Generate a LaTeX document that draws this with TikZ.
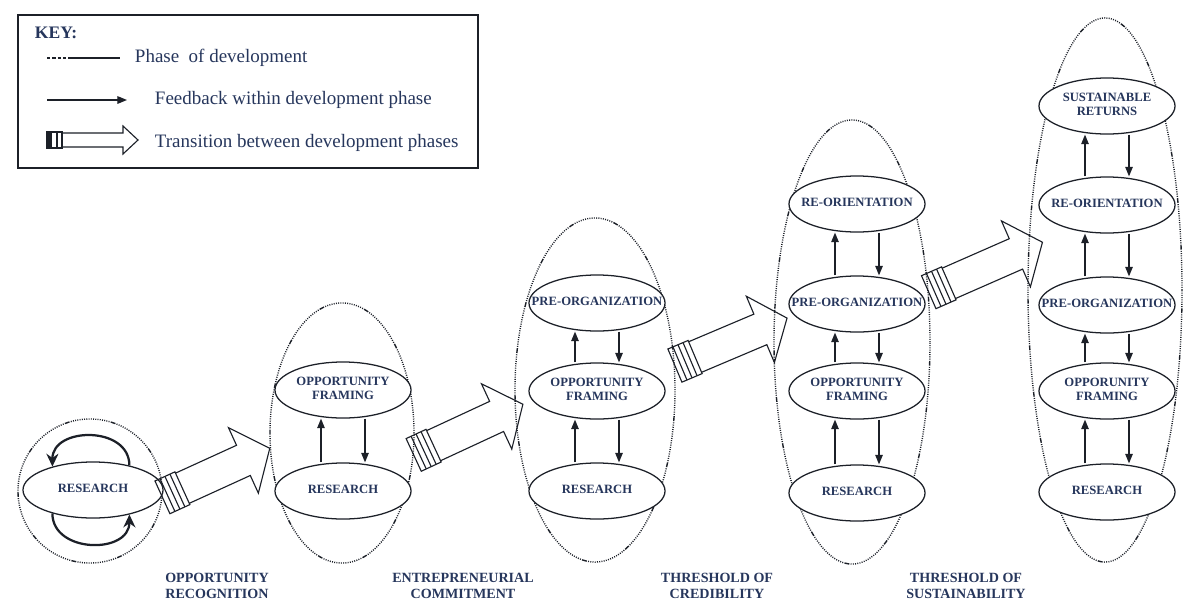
\documentclass[tikz,border=0pt]{standalone}
\usepackage{fontspec}
\setmainfont{Liberation Serif}
\usetikzlibrary{arrows.meta,shapes.geometric,decorations.markings}

\definecolor{ink}{RGB}{38,54,92}
\definecolor{rule}{RGB}{28,32,40}

\newcommand{\stagetext}[1]{\makebox[0pt]{\begin{tabular}{@{}c@{}}#1\end{tabular}}}
\newcommand{\transshape}{%
  \draw[transline] (0pt,-12.8pt) rectangle (15.6pt,12.8pt);
  \foreach \s in {3.9pt,7.8pt,11.7pt} \draw[transline] (\s,-12.8pt) -- (\s,12.8pt);
  \draw[transline] (15.6pt,11.8pt) -- (\pgfdecoratedpathlength-20.6pt,11.8pt)
    -- (\pgfdecoratedpathlength-20.6pt,25.6pt) -- (\pgfdecoratedpathlength,0pt)
    -- (\pgfdecoratedpathlength-20.6pt,-25.6pt) -- (\pgfdecoratedpathlength-20.6pt,-11.8pt)
    -- (15.6pt,-11.8pt);
}

\tikzset{
  phase/.style={draw=rule, line width=1pt, inner sep=0pt,
    dash pattern=on 0.7pt off 0.9pt on 0.7pt off 0.9pt on 0.7pt off 0.9pt on 0.7pt off 0.9pt
      on 0.7pt off 0.9pt on 0.7pt off 0.9pt on 0.7pt off 0.9pt on 0.7pt off 0.9pt
      on 0.7pt off 0.9pt on 0.7pt off 0.9pt on 0.7pt off 0.9pt on 0.7pt off 0.9pt
      on 0.7pt off 0.9pt on 0.7pt off 0.9pt on 0.7pt off 0.9pt on 0.7pt off 0.9pt
      on 0.7pt off 0.9pt on 0.7pt off 0.9pt on 3.5pt off 0.9pt},
  stage/.style={ellipse, draw=rule, fill=white, line width=0.9pt,
    minimum width=3.4cm, minimum height=1.4cm, inner sep=0pt,
    text=ink, font=\bfseries\fontsize{9}{10}\selectfont},
  fb/.style={draw=rule, line width=0.8pt, -{Triangle[length=2.4mm,width=1.9mm]}},
  turn/.style={draw=rule, line width=1.6pt, -{Stealth[length=3.2mm,width=3mm]}},
  transline/.style={draw=rule, line width=0.8pt},
  transition/.style={decoration={markings, mark=at position 0 with {\transshape}},
    postaction={decorate}},
  threshold/.style={text=ink, font=\bfseries\fontsize{10}{11.5}\selectfont, align=center},
  keytext/.style={text=ink, anchor=west, font=\fontsize{13.5}{15}\selectfont}
}

\begin{document}
\begin{tikzpicture}[x=0.025cm, y=-0.025cm]
  \useasboundingbox (0,0) rectangle (1185,606);

  % key
  \draw[rule, line width=1.1pt] (18,15) rectangle (478,168);
  \node[anchor=west, text=ink, font=\bfseries\fontsize{12.5}{14}\selectfont] (key) at (30,33) {KEY:};
  \draw[rule, line width=1.6pt, dash pattern=on 2.4pt off 1.4pt] (47,58) -- (72,58);
  \draw[rule, line width=1.8pt] (72,58) -- (120,58);
  \node[keytext] (k1) at (130,58) {Phase\ \ of development};
  \draw[fb] (47,100) -- (127,100);
  \node[keytext] (k2) at (150,100) {Feedback within development phase};
  \fill[rule] (47,132) rectangle (52,148);
  \draw[transline] (47,132) rectangle (62,148) (57,132) -- (57,148);
  \draw[transline] (62,133) -- (123,133) -- (123,126) -- (138,140) -- (123,154) -- (123,147) -- (62,147);
  \node[keytext] (k3) at (150,143) {Transition between development phases};

  % phases of development
  \node[phase, circle, minimum size=3.6cm] (ph1) at (90,491) {};
  \node[phase, ellipse, minimum width=3.6cm, minimum height=6.5cm] (ph2) at (342,433) {};
  \node[phase, ellipse, minimum width=4cm, minimum height=8.6cm] (ph3) at (595,390) {};
  \node[phase, ellipse, minimum width=3.9cm, minimum height=11.1cm] (ph4) at (852,342) {};
  \node[phase, ellipse, minimum width=3.85cm, minimum height=13.6cm] (ph5) at (1105,290) {};

  % stages
  \node[stage, minimum width=3.5cm] (r1) at (93,490) {\stagetext{RESEARCH}};

  \node[stage] (r2) at (343,491) {\stagetext{RESEARCH}};
  \node[stage] (o2) at (343,390) {\stagetext{OPPORTUNITY\\FRAMING}};

  \node[stage] (r3) at (597,491) {\stagetext{RESEARCH}};
  \node[stage] (o3) at (597,391) {\stagetext{OPPORTUNITY\\FRAMING}};
  \node[stage] (p3) at (597,303) {\stagetext{PRE-ORGANIZATION}};

  \node[stage] (r4) at (857,493) {\stagetext{RESEARCH}};
  \node[stage] (o4) at (857,391) {\stagetext{OPPORTUNITY\\FRAMING}};
  \node[stage] (p4) at (857,304) {\stagetext{PRE-ORGANIZATION}};
  \node[stage] (e4) at (857,204) {\stagetext{RE-ORIENTATION}};

  \node[stage] (r5) at (1107,492) {\stagetext{RESEARCH}};
  \node[stage] (o5) at (1107,391) {\stagetext{OPPORUNITY\\FRAMING}};
  \node[stage] (p5) at (1107,305) {\stagetext{PRE-ORGANIZATION}};
  \node[stage] (e5) at (1107,205) {\stagetext{RE-ORIENTATION}};
  \node[stage] (s5) at (1107,106) {\stagetext{SUSTAINABLE\\RETURNS}};

  % feedback within a phase
  \foreach \lo/\hi in {r2/o2, r3/o3, o3/p3, r4/o4, o4/p4, p4/e4, r5/o5, o5/p5, p5/e5, e5/s5} {
    \draw[fb] ([xshift=-0.55cm]\lo.north) -- ([xshift=-0.55cm]\hi.south);
    \draw[fb] ([xshift=0.55cm]\hi.south) -- ([xshift=0.55cm]\lo.north);
  }
  \draw[turn] (r1.34) .. controls +(0,-40) and +(0,-40) .. (r1.150);
  \draw[turn] (r1.210) .. controls +(0,40) and +(0,40) .. (r1.-34);

  % transitions
  \path[transition] (ph1.-5) -- (ph2.192);
  \path[transition] (ph2.-17) -- ([xshift=6pt]ph3.190);
  \path[transition] (ph3.17) -- ([xshift=9.5pt]ph4.163);
  \path[transition] (ph4.33) -- ([xshift=10pt]ph5.148);

  % thresholds
  \node[threshold] (t1) at (217,586) {OPPORTUNITY\\RECOGNITION};
  \node[threshold] (t2) at (463,586) {ENTREPRENEURIAL\\COMMITMENT};
  \node[threshold] (t3) at (717,586) {THRESHOLD OF\\CREDIBILITY};
  \node[threshold] (t4) at (966,586) {THRESHOLD OF\\SUSTAINABILITY};
\end{tikzpicture}
\end{document}
